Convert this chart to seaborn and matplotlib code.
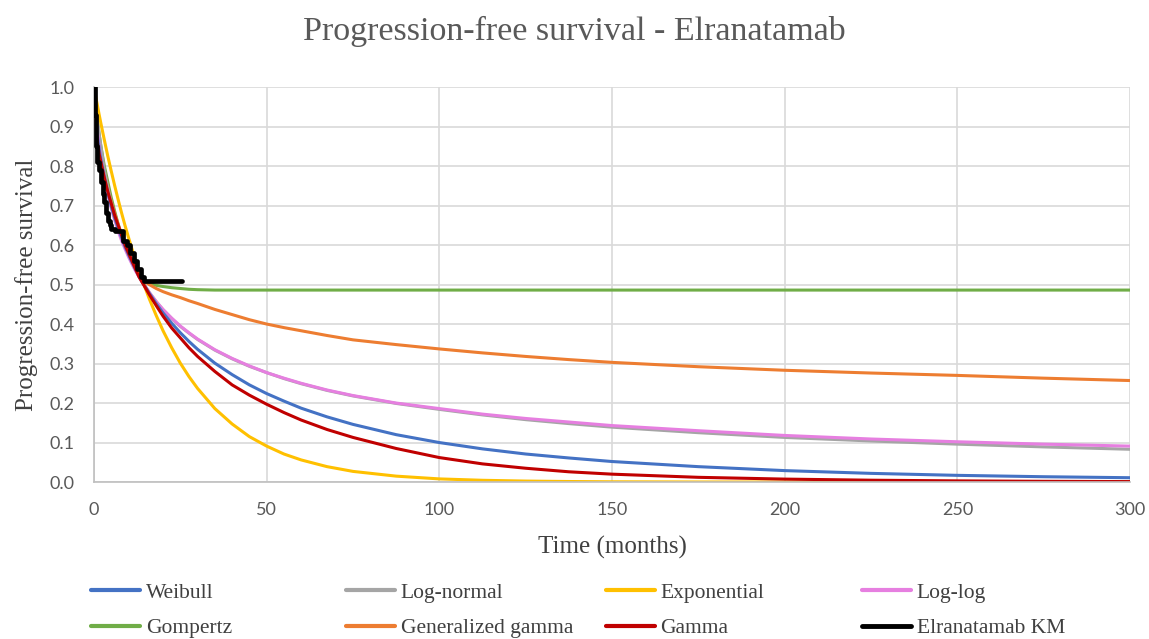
import matplotlib
matplotlib.use("Agg")
import matplotlib.pyplot as plt
import seaborn as sns
import pandas as pd
from matplotlib.lines import Line2D

# ---- data ----
time = [0, 0.5, 1, 1.5, 2, 3, 4, 5, 6, 7, 8, 9, 10, 11, 12, 13, 14, 16, 18, 20,
        22.5, 25, 27.5, 30, 35, 40, 45, 50, 55, 60, 67.5, 75, 87.5, 100, 112.5,
        125, 137.5, 150, 175, 200, 225, 250, 275, 300]

weibull = [1.0, 0.918, 0.876, 0.843, 0.816, 0.770, 0.732, 0.698, 0.669, 0.643, 0.619,
           0.596, 0.576, 0.557, 0.539, 0.522, 0.507, 0.478, 0.452, 0.428, 0.402, 0.378,
           0.356, 0.336, 0.301, 0.272, 0.246, 0.224, 0.205, 0.187, 0.165, 0.146, 0.120,
           0.100, 0.084, 0.071, 0.061, 0.052, 0.039, 0.029, 0.022, 0.017, 0.0135, 0.011]
lognormal = [1.0, 0.96, 0.92, 0.88, 0.85, 0.79, 0.745, 0.705, 0.672, 0.643, 0.617,
             0.594, 0.573, 0.554, 0.537, 0.521, 0.506, 0.480, 0.457, 0.436, 0.414, 0.394,
             0.377, 0.361, 0.334, 0.312, 0.293, 0.277, 0.262, 0.249, 0.232, 0.218, 0.199,
             0.184, 0.170, 0.158, 0.148, 0.139, 0.125, 0.113, 0.104, 0.096, 0.089, 0.083]
exponential = [1.0, 0.976, 0.953, 0.930, 0.908, 0.866, 0.825, 0.787, 0.750, 0.715, 0.681,
               0.649, 0.619, 0.590, 0.562, 0.536, 0.511, 0.464, 0.422, 0.383, 0.340, 0.301,
               0.267, 0.237, 0.186, 0.147, 0.115, 0.091, 0.071, 0.056, 0.039, 0.027, 0.015,
               0.008, 0.0045, 0.0025, 0.0014, 0.0007, 0.0002, 0.0001, 0.0, 0.0, 0.0, 0.0]
loglog = [1.0, 0.930, 0.886, 0.851, 0.820, 0.770, 0.728, 0.693, 0.663, 0.635, 0.611,
          0.590, 0.570, 0.552, 0.535, 0.520, 0.506, 0.480, 0.457, 0.437, 0.415, 0.395,
          0.378, 0.362, 0.335, 0.313, 0.294, 0.277, 0.263, 0.250, 0.233, 0.219, 0.200,
          0.186, 0.172, 0.161, 0.152, 0.143, 0.130, 0.118, 0.109, 0.102, 0.096, 0.091]
gompertz = [1.0, 0.95, 0.91, 0.88, 0.85, 0.80, 0.76, 0.72, 0.685, 0.653, 0.625,
            0.600, 0.578, 0.560, 0.543, 0.527, 0.514, 0.503, 0.498, 0.495, 0.492, 0.490,
            0.488, 0.487, 0.486, 0.486, 0.486, 0.486, 0.486, 0.486, 0.486, 0.486, 0.486,
            0.486, 0.486, 0.486, 0.486, 0.486, 0.486, 0.486, 0.486, 0.486, 0.486, 0.486]
gengamma = [1.0, 0.93, 0.89, 0.86, 0.83, 0.785, 0.745, 0.71, 0.68, 0.652, 0.626,
            0.603, 0.582, 0.563, 0.545, 0.527, 0.512, 0.500, 0.490, 0.482, 0.474, 0.467,
            0.459, 0.452, 0.437, 0.424, 0.411, 0.400, 0.391, 0.383, 0.371, 0.360, 0.348,
            0.337, 0.327, 0.318, 0.310, 0.303, 0.292, 0.283, 0.276, 0.270, 0.263, 0.257]
gamma = [1.0, 0.90, 0.86, 0.83, 0.81, 0.77, 0.735, 0.705, 0.675, 0.65, 0.625,
         0.60, 0.58, 0.56, 0.54, 0.52, 0.505, 0.475, 0.447, 0.42, 0.39, 0.365,
         0.34, 0.318, 0.28, 0.246, 0.22, 0.197, 0.176, 0.157, 0.133, 0.113, 0.085,
         0.062, 0.046, 0.035, 0.026, 0.020, 0.012, 0.0075, 0.0047, 0.003, 0.0019, 0.0012]

km_time = [0, 0.3, 0.6, 1.0, 1.5, 2.0, 2.5, 3.0, 3.5, 4.0, 4.5, 5.0, 6.0, 7.5, 8.5,
           9.5, 10.5, 11.5, 12.5, 13.5, 14.5, 25.4]
km_surv = [1.0, 0.93, 0.85, 0.81, 0.79, 0.76, 0.73, 0.71, 0.68, 0.66, 0.65, 0.64, 0.635,
           0.635, 0.61, 0.60, 0.58, 0.56, 0.54, 0.52, 0.51, 0.51]

labels = ["Weibull", "Log-normal", "Exponential", "Log-log",
          "Gompertz", "Generalized gamma", "Gamma", "Elranatamab KM"]
x_ticks = [0, 50, 100, 150, 200, 250, 300]
y_ticks = [0.0, 0.1, 0.2, 0.3, 0.4, 0.5, 0.6, 0.7, 0.8, 0.9, 1.0]

colors = {"Weibull": "#4472C4", "Log-normal": "#A5A5A5", "Exponential": "#FFC000",
          "Log-log": "#E67FE0", "Gompertz": "#70AD47", "Generalized gamma": "#ED7D31",
          "Gamma": "#C00000", "Elranatamab KM": "#000000"}

series = {"Weibull": weibull, "Log-normal": lognormal, "Exponential": exponential,
          "Log-log": loglog, "Gompertz": gompertz, "Generalized gamma": gengamma,
          "Gamma": gamma}

sns.set_theme(style="white")
plt.rcParams["font.family"] = ["Liberation Serif", "DejaVu Serif"]

fig = plt.figure(figsize=(11.49, 6.39), dpi=100)
ax = fig.add_axes([0.0818, 0.2456, 0.9017, 0.6182])

draw_order = ["Gompertz", "Generalized gamma", "Log-normal", "Log-log",
              "Weibull", "Exponential", "Gamma"]
for name in draw_order:
    df = pd.DataFrame({"t": time, "s": series[name]})
    sns.lineplot(data=df, x="t", y="s", ax=ax, color=colors[name], lw=2.2,
                 legend=False, estimator=None)

ax.step(km_time, km_surv, where="post", color="black", lw=3.4, zorder=5)

ax.set_xlim(0, 300)
ax.set_ylim(0, 1.0)
ax.set_xticks(x_ticks)
ax.set_yticks(y_ticks)
ax.set_xticklabels([str(v) for v in x_ticks])
ax.set_yticklabels([f"{v:.1f}" for v in y_ticks])
ax.tick_params(axis="both", length=0, labelsize=13, labelcolor="#595959")
ax.tick_params(axis="x", pad=14)
ax.tick_params(axis="y", pad=14)
for lab in ax.get_xticklabels() + ax.get_yticklabels():
    lab.set_fontfamily(["Lato", "DejaVu Sans"])
ax.grid(True, color="#D9D9D9", lw=1.2)
for side in ["top", "right"]:
    ax.spines[side].set_visible(False)
for side in ["left", "bottom"]:
    ax.spines[side].set_color("#BFBFBF")
    ax.spines[side].set_linewidth(1.2)

ax.set_xlabel("Time (months)", fontsize=18, color="#404040", labelpad=13)
ax.set_ylabel("Progression-free survival", fontsize=18, color="#404040", labelpad=8)
fig.text(0.5, 0.950, "Progression-free survival - Elranatamab", ha="center", va="center",
         fontsize=24.5, color="#595959")

# legend: four fixed-width columns, two rows
col_x = [0.079, 0.301, 0.527, 0.750]
for c in range(4):
    hs = []
    for r in range(2):
        name = labels[r * 4 + c]
        hs.append(Line2D([], [], color=colors[name], lw=3 if name != "Elranatamab KM" else 3.5,
                         label=name))
    fig.legend(handles=hs, loc="upper left", bbox_to_anchor=(col_x[c], 0.088),
               frameon=False, fontsize=15.5, handlelength=2.3, handletextpad=0.25,
               labelspacing=0.72, borderaxespad=0, borderpad=0,
               labelcolor="#404040")

fig.savefig("out.png", dpi=100, facecolor="white")
